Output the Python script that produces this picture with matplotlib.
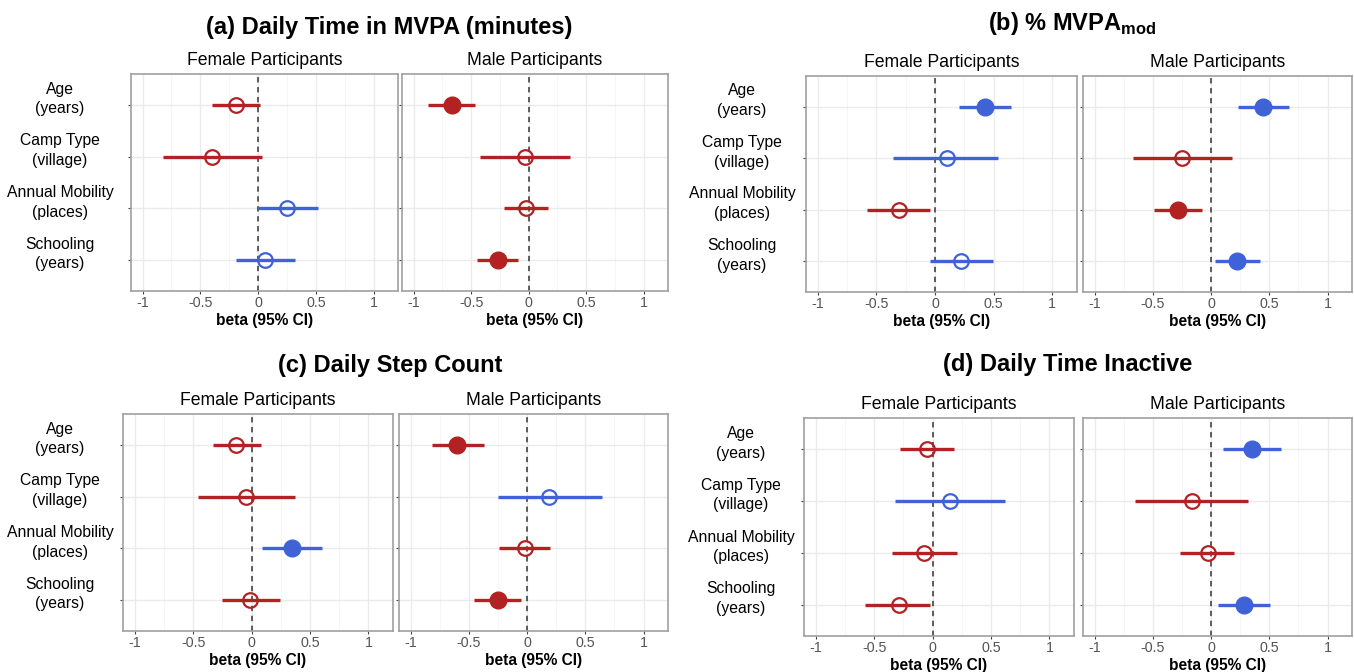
import matplotlib
matplotlib.use("Agg")
import matplotlib.pyplot as plt
from matplotlib.transforms import blended_transform_factory, ScaledTranslation
import numpy as np

plt.rcParams['font.family'] = ['Liberation Sans', 'DejaVu Sans']
plt.rcParams['mathtext.fontset'] = 'custom'
plt.rcParams['mathtext.rm'] = 'Liberation Sans'
plt.rcParams['mathtext.bf'] = 'Liberation Sans:bold'

# Datos
categorias = ["Age\n(years)", "Camp Type\n(village)", "Annual Mobility\n(places)", "Schooling\n(years)"]
titulos = ["(a) Daily Time in MVPA (minutes)", r"(b) % MVPA$_{\mathbf{mod}}$",
           "(c) Daily Step Count", "(d) Daily Time Inactive"]

# (a) Daily Time in MVPA
a_fem_est = [-0.19, -0.40, 0.25, 0.06]
a_fem_lo = [-0.40, -0.82, 0.00, -0.19]
a_fem_hi = [0.02, 0.03, 0.52, 0.32]
a_fem_sig = [0, 0, 0, 0]
a_mal_est = [-0.67, -0.03, -0.02, -0.27]
a_mal_lo = [-0.87, -0.42, -0.21, -0.45]
a_mal_hi = [-0.47, 0.36, 0.17, -0.09]
a_mal_sig = [1, 0, 0, 1]

# (b) % MVPA mod
b_fem_est = [0.43, 0.10, -0.31, 0.22]
b_fem_lo = [0.20, -0.36, -0.58, -0.04]
b_fem_hi = [0.65, 0.54, -0.04, 0.49]
b_fem_sig = [1, 0, 0, 0]
b_mal_est = [0.45, -0.25, -0.28, 0.22]
b_mal_lo = [0.23, -0.67, -0.49, 0.03]
b_mal_hi = [0.67, 0.18, -0.08, 0.42]
b_mal_sig = [1, 0, 1, 1]

# (c) Daily Step Count
c_fem_est = [-0.13, -0.05, 0.35, -0.01]
c_fem_lo = [-0.33, -0.46, 0.09, -0.25]
c_fem_hi = [0.08, 0.37, 0.60, 0.24]
c_fem_sig = [0, 0, 1, 0]
c_mal_est = [-0.60, 0.19, -0.02, -0.25]
c_mal_lo = [-0.82, -0.25, -0.24, -0.46]
c_mal_hi = [-0.37, 0.64, 0.20, -0.05]
c_mal_sig = [1, 0, 0, 1]

# (d) Daily Time Inactive
d_fem_est = [-0.05, 0.15, -0.07, -0.29]
d_fem_lo = [-0.28, -0.32, -0.35, -0.58]
d_fem_hi = [0.18, 0.62, 0.21, -0.02]
d_fem_sig = [0, 0, 0, 0]
d_mal_est = [0.35, -0.16, -0.03, 0.28]
d_mal_lo = [0.10, -0.65, -0.27, 0.06]
d_mal_hi = [0.60, 0.32, 0.20, 0.51]
d_mal_sig = [1, 0, 0, 1]

paneles = [
    [(a_fem_est, a_fem_lo, a_fem_hi, a_fem_sig), (a_mal_est, a_mal_lo, a_mal_hi, a_mal_sig)],
    [(b_fem_est, b_fem_lo, b_fem_hi, b_fem_sig), (b_mal_est, b_mal_lo, b_mal_hi, b_mal_sig)],
    [(c_fem_est, c_fem_lo, c_fem_hi, c_fem_sig), (c_mal_est, c_mal_lo, c_mal_hi, c_mal_sig)],
    [(d_fem_est, d_fem_lo, d_fem_hi, d_fem_sig), (d_mal_est, d_mal_lo, d_mal_hi, d_mal_sig)],
]

ROJO = "#B22222"
AZUL = "#3F63D6"
W, H = 1354, 672

fig = plt.figure(figsize=(W / 100, H / 100), dpi=100)

# posiciones en pixeles: (x0 fem, x1 fem, x0 male, x1 male, y top, y bottom)
cajas = [
    (131, 398, 402, 668, 74, 291),
    (806, 1077, 1083, 1352, 76, 292),
    (123, 393, 399, 668, 414, 631),
    (804, 1074, 1083, 1352, 418, 636),
]
# titulo: centro x, linea base y
pos_titulo = [(389, 34), (1072, 30), (390, 372), (1068, 371)]
# centro x de las etiquetas del eje y
pos_ylab = [60, 742, 60, 741]

y = np.arange(len(categorias), 0, -1)

def px(x0, x1, yt, yb):
    return [x0 / W, 1 - yb / H, (x1 - x0) / W, (yb - yt) / H]

for p, (datos, caja) in enumerate(zip(paneles, cajas)):
    fx0, fx1, mx0, mx1, yt, yb = caja
    rects = [px(fx0, fx1, yt, yb), px(mx0, mx1, yt, yb)]
    for k, ((est, lo, hi, sig), rect) in enumerate(zip(datos, rects)):
        ax = fig.add_axes(rect)
        ax.set_xlim(-1.1, 1.21)
        ax.set_ylim(0.4, 4.6)
        ax.set_xticks([-1, -0.5, 0, 0.5, 1])
        ax.set_xticklabels(["-1", "-0.5", "0", "0.5", "1"])
        ax.set_xticks([-0.75, -0.25, 0.25, 0.75], minor=True)
        ax.set_yticks(y)
        ax.set_yticklabels([])
        ax.grid(True, which='major', color='#EBEBEB', linewidth=1.0)
        ax.grid(True, which='minor', axis='x', color='#F5F5F5', linewidth=0.6)
        ax.set_axisbelow(True)
        ax.tick_params(axis='both', which='major', length=2.5, width=0.8, color='#444444',
                       labelsize=10.3, labelcolor='#555555', pad=1)
        ax.tick_params(axis='x', which='minor', length=0)
        for s in ax.spines.values():
            s.set_color('#A0A0A0')
            s.set_linewidth(1.2)
        ax.axvline(0, color='#333333', linestyle=(0, (3.5, 3)), linewidth=1.1, zorder=2)

        for i in range(len(est)):
            col = AZUL if est[i] > 0 else ROJO
            ax.plot([lo[i], hi[i]], [y[i], y[i]], color=col, linewidth=2.4,
                    solid_capstyle='butt', zorder=3)
            if sig[i]:
                ax.plot(est[i], y[i], 'o', color=col, markersize=12, zorder=4)
            else:
                ax.plot(est[i], y[i], 'o', markerfacecolor='none', markeredgecolor=col,
                        markeredgewidth=1.6, markersize=10.5, zorder=4)

        ax.set_xlabel("beta (95% CI)", fontsize=11.2, fontweight='bold', labelpad=2)
        # cabecera de faceta
        cx = (rect[0] + rect[2] / 2)
        ax.text(cx, 1 - (yt - 9) / H, ["Female Participants", "Male Participants"][k],
                transform=fig.transFigure, ha='center', va='baseline', fontsize=12.7)

        if k == 0:
            tr = blended_transform_factory(fig.transFigure, ax.transData) + \
                ScaledTranslation(0, 6 / 100, fig.dpi_scale_trans)
            for i, cat in enumerate(categorias):
                ax.text(pos_ylab[p] / W, y[i], cat, transform=tr, ha='center', va='center',
                        fontsize=11.3, linespacing=1.4, multialignment='center')

    tx, ty = pos_titulo[p]
    fig.text(tx / W, 1 - ty / H, titulos[p], ha='center', va='baseline',
             fontsize=17, fontweight='bold')

fig.savefig("out.png", dpi=100)
